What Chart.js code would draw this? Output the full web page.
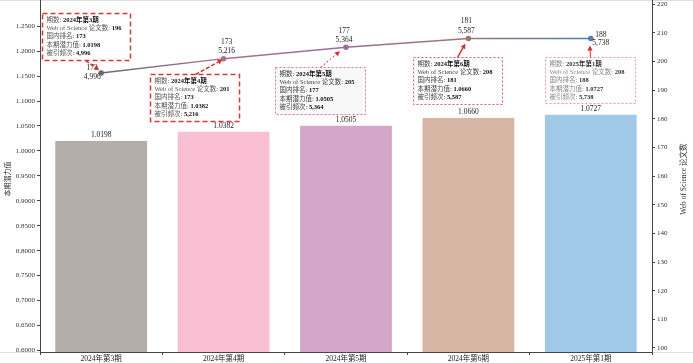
<!DOCTYPE html>
<html><head><meta charset="utf-8">
<script src="https://cdn.jsdelivr.net/npm/chart.js@4.4.0/dist/chart.umd.min.js"></script>
<style>html,body{margin:0;padding:0;background:#fff}#wrap{width:693px;height:363px;position:relative}</style>
</head><body><div id="wrap"><canvas id="c"></canvas></div>
<script>
const categories = ['2024年第3期','2024年第4期','2024年第5期','2024年第6期','2025年第1期'];
const potential = [1.0198, 1.0382, 1.0505, 1.0660, 1.0727];
const wosPapers = [196, 201, 205, 208, 208];
const ranks = [173, 173, 177, 181, 188];
const citations = [4996, 5216, 5364, 5587, 5738];
const leftTicks = [0.60,0.65,0.70,0.75,0.80,0.85,0.90,0.95,1.00,1.05,1.10,1.15,1.20,1.25];
const rightTicks = [100,110,120,130,140,150,160,170,180,190,200,210,220];

const barColors = ['#b5ada9','#f9bfd3','#d4a6c8','#d7b5a5','#a0c9e8'];
const lineColors = ['#6e6670','#a87292','#9b6c98','#9a7a6c','#4d7bb8'];
const SERIF = '"Liberation Serif","Times New Roman","Noto Sans CJK SC",serif';

// annotation layout (relative to each line point)
const noteStyle = [
  {dx:-59, dy:-60, w:88, h:47, as:[43,47], ae:[-2,-3], bc:'#d23a3a', blw:1.5, bdash:[5,3], alw:1.5, adash:[4,2], lab:'#555', val:'#111', bg:'rgba(255,255,255,0.95)'},
  {dx:-74, dy:15,  w:89, h:47, as:[45,0],  ae:[-1,1],  bc:'#d23a3a', blw:1.5, bdash:[5,3], alw:1.5, adash:[4,2], lab:'#555', val:'#111', bg:'rgba(255,255,255,0.95)'},
  {dx:-71, dy:20,  w:90, h:47, as:[45,0],  ae:[-6,4],  bc:'#e07a7a', blw:1, bdash:[2,2], alw:1, adash:[2,2], lab:'#444', val:'#111', bg:'rgba(248,248,248,0.95)'},
  {dx:-55, dy:18,  w:89, h:47, as:[44,0],  ae:[-3,5],  bc:'#e05a5a', blw:1, bdash:[2,2], alw:1.5, adash:[], lab:'#444', val:'#111', bg:'rgba(255,255,255,0.95)'},
  {dx:-46, dy:18,  w:90, h:46, as:[45,0],  ae:[-1,7],  bc:'#ec9a9a', blw:1, bdash:[2,2], alw:1, adash:[], lab:'#888', val:'#333', bg:'rgba(255,255,255,0.95)'}
];
const labelOffsets = [[-9,-5,4],[3,-17,-8],[-2,-16,-7],[-2,-18,-8],[10,-4,4]];

const annotPlugin = {
  id:'annot',
  beforeDraw(chart){
    const ctx = chart.ctx, ca = chart.chartArea;
    ctx.save();
    ctx.strokeStyle = '#dddddd'; ctx.lineWidth = 1;
    ctx.beginPath(); ctx.moveTo(0, 0.5); ctx.lineTo(chart.width, 0.5);
    ctx.moveTo(0, ca.bottom+0.5); ctx.lineTo(chart.width, ca.bottom+0.5); ctx.stroke();
    ctx.strokeStyle = '#444';
    ctx.beginPath(); ctx.moveTo(ca.left+0.5, 0); ctx.lineTo(ca.left+0.5, ca.top);
    ctx.moveTo(ca.right+0.5, 0); ctx.lineTo(ca.right+0.5, ca.top); ctx.stroke();
    ctx.restore();
  },
  afterDatasetsDraw(chart){
    const ctx = chart.ctx;
    const xs = chart.scales.x, ys = chart.scales.y, y1 = chart.scales.y1;
    ctx.save();
    ctx.font = '7.5px ' + SERIF; ctx.fillStyle = '#222'; ctx.textAlign='center'; ctx.textBaseline='middle';
    potential.forEach((v,i)=>{
      ctx.fillText(v.toFixed(4), xs.getPixelForValue(i), ys.getPixelForValue(v)-6);
    });
    wosPapers.forEach((v,i)=>{
      const px = xs.getPixelForValue(i), py = y1.getPixelForValue(v);
      const o = labelOffsets[i];
      ctx.fillText(String(ranks[i]), px+o[0], py+o[1]);
      ctx.fillText(citations[i].toLocaleString('en-US'), px+o[0], py+o[2]);
    });
    wosPapers.forEach((v,i)=>{
      const s = noteStyle[i];
      const px = xs.getPixelForValue(i), py = y1.getPixelForValue(v);
      const bx = Math.round(px + s.dx)+0.5, by = Math.round(py + s.dy)+0.5;
      ctx.fillStyle = s.bg; ctx.fillRect(bx, by, s.w, s.h);
      ctx.strokeStyle = s.bc; ctx.lineWidth = s.blw; ctx.setLineDash(s.bdash);
      ctx.strokeRect(bx, by, s.w, s.h);
      ctx.setLineDash([]);
      const rows = [['期数: ', categories[i]], ['Web of Science 论文数: ', String(wosPapers[i])],
        ['国内排名: ', String(ranks[i])], ['本期潜力值: ', potential[i].toFixed(4)],
        ['被引频次: ', citations[i].toLocaleString('en-US')]];
      ctx.textAlign='left'; ctx.textBaseline='middle';
      rows.forEach((r,k)=>{
        const ty = by + 6.5 + k*8.3, tx = bx + 4;
        ctx.font = '6.5px ' + SERIF; ctx.fillStyle = s.lab; ctx.fillText(r[0], tx, ty);
        const w = ctx.measureText(r[0]).width;
        ctx.font = 'bold 6.5px ' + SERIF; ctx.fillStyle = s.val; ctx.fillText(r[1], tx+w, ty);
      });
      const sx = bx + s.as[0], sy = by + s.as[1], ex = px + s.ae[0], ey = py + s.ae[1];
      const ang = Math.atan2(ey-sy, ex-sx), hl = 5, hw = 2.6;
      const lx = ex - Math.cos(ang)*hl, ly = ey - Math.sin(ang)*hl;
      ctx.strokeStyle = '#d42e2e'; ctx.lineWidth = s.alw; ctx.setLineDash(s.adash);
      ctx.beginPath(); ctx.moveTo(sx, sy); ctx.lineTo(lx, ly); ctx.stroke();
      ctx.setLineDash([]);
      ctx.fillStyle = '#d42e2e';
      ctx.beginPath(); ctx.moveTo(ex, ey);
      ctx.lineTo(lx + Math.sin(ang)*hw, ly - Math.cos(ang)*hw);
      ctx.lineTo(lx - Math.sin(ang)*hw, ly + Math.cos(ang)*hw);
      ctx.closePath(); ctx.fill();
    });
    const ca = chart.chartArea;
    ctx.save();
    ctx.translate(684, (ca.top+ca.bottom)/2);
    ctx.rotate(-Math.PI/2);
    ctx.font = '7.5px ' + SERIF; ctx.fillStyle = '#333'; ctx.textAlign='center'; ctx.textBaseline='middle';
    ctx.fillText('Web of Science 论文数', 0, 0);
    ctx.restore();
    ctx.restore();
  }
};

const tickFont = {family: SERIF, size: 7};
new Chart(document.getElementById('c'), {
  type: 'bar',
  data: {
    labels: categories,
    datasets: [
      {type:'line', label:'Web of Science 论文数', data: wosPapers, yAxisID:'y1', order:0,
       borderWidth:1.5, pointRadius:2, pointHoverRadius:2, tension:0,
       pointBackgroundColor: lineColors, pointBorderColor: lineColors,
       borderColor: (c)=>{
         const chart = c.chart; if(!chart.chartArea) return lineColors[0];
         const xs = chart.scales.x;
         const g = chart.ctx.createLinearGradient(xs.getPixelForValue(0),0,xs.getPixelForValue(4),0);
         lineColors.forEach((col,i)=>g.addColorStop(i/4,col));
         return g;
       }},
      {type:'bar', label:'本期潜力值', data: potential, yAxisID:'y', order:1,
       backgroundColor: barColors, borderWidth:0, barPercentage:0.75, categoryPercentage:1}
    ]
  },
  options: {
    responsive:true, maintainAspectRatio:false, animation:false,
    layout:{padding:{top:0,left:0,right:0,bottom:0}},
    plugins:{legend:{display:false}, tooltip:{enabled:false}},
    scales:{
      x:{type:'category', offset:true,
         grid:{offset:true, drawOnChartArea:false, drawTicks:true, tickLength:3, color:'#444'},
         border:{color:'#444'},
         ticks:{font:{family:SERIF,size:7.5}, color:'#222', padding:0, maxRotation:0, autoSkip:false},
         afterFit(s){ s.height = 11; }},
      y:{position:'left', min:0.597, max:1.290,
         afterBuildTicks(s){ s.ticks = leftTicks.map(v=>({value:v})); },
         ticks:{callback:(v)=>Number(v).toFixed(4), font:tickFont, color:'#333', padding:2},
         grid:{drawOnChartArea:false, drawTicks:true, tickLength:3, color:'#444'},
         border:{color:'#444'},
         title:{display:true, text:'本期潜力值', font:{family:SERIF,size:7}, color:'#333', padding:{top:4,bottom:0}},
         afterFit(s){ s.width = 40; }},
      y1:{position:'right', min:98.6, max:219.3,
         afterBuildTicks(s){ s.ticks = rightTicks.map(v=>({value:v})); },
         ticks:{callback:(v)=>String(v), font:tickFont, color:'#333', padding:2},
         grid:{drawOnChartArea:false, drawTicks:true, tickLength:3, color:'#444'},
         border:{color:'#444'},
         afterFit(s){ s.width = 41; }}
    }
  },
  plugins:[annotPlugin]
});
</script></body></html>
